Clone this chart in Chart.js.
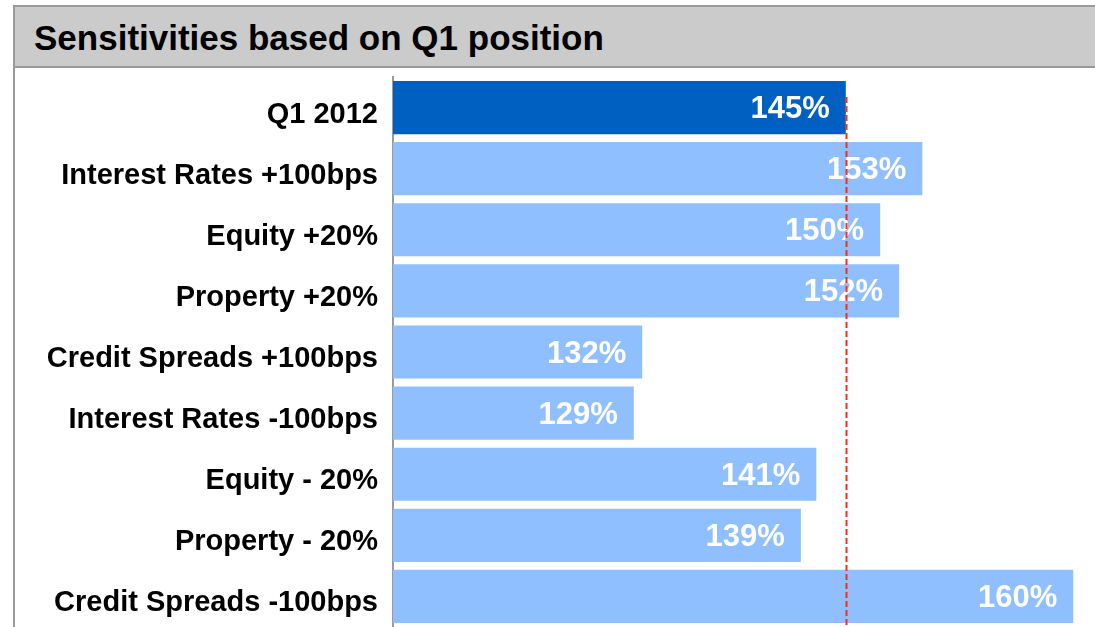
<!DOCTYPE html>
<html lang="en">
<head>
  <meta charset="UTF-8" />
  <title>Sensitivities based on Q1 position</title>
  <style>
    body { margin:0; background:#fff; font-family: "Liberation Sans", Arial, sans-serif; width:1095px; height:627px; overflow:hidden; position:relative; }
    .frame { position:absolute; left:13px; top:5px; width:1100px; height:640px; border-left:2px solid #9a9a9a; border-top:2px solid #9a9a9a; }
    .head { position:absolute; left:15px; top:7px; width:1100px; height:59px; background:#cbcbcb; border-bottom:2px solid #9a9a9a; }
    .head h2 { margin:0; position:absolute; left:19px; top:13px; font-size:35px; font-weight:bold; color:#000; line-height:36px; }
    .wrap { position:absolute; left:15px; top:69px; width:1080px; height:558px; }
  </style>
  <script src="https://cdn.jsdelivr.net/npm/chart.js"></script>
</head>
<body>
  <div class="frame"></div>
  <div class="head"><h2>Sensitivities based on Q1 position</h2></div>
  <div class="wrap"><canvas id="sens"></canvas></div>

  <script>
    const categories = ['Q1 2012', 'Interest Rates +100bps', 'Equity +20%', 'Property +20%',
      'Credit Spreads +100bps', 'Interest Rates -100bps', 'Equity - 20%', 'Property - 20%', 'Credit Spreads -100bps'];
    // bar lengths as drawn in the picture (axis runs 0..100, unlabeled)
    const barLengths = [64.5, 75.4, 69.4, 72.1, 35.5, 34.3, 60.3, 58.1, 96.9];
    const valueLabels = ['145%', '153%', '150%', '152%', '132%', '129%', '141%', '139%', '160%'];
    const refLine = 64.5; // Q1 2012 level
    const barColors = ['#0060c2', '#8fbfff', '#8fbfff', '#8fbfff', '#8fbfff', '#8fbfff', '#8fbfff', '#8fbfff', '#8fbfff'];

    const valuePlugin = {
      id: 'values',
      afterDatasetsDraw(chart) {
        const ctx = chart.ctx;
        const meta = chart.getDatasetMeta(0);
        ctx.save();
        ctx.fillStyle = '#fff';
        ctx.font = 'bold 31px "Liberation Sans", Arial, sans-serif';
        ctx.textAlign = 'right';
        ctx.textBaseline = 'middle';
        meta.data.forEach((bar, i) => {
          ctx.fillText(valueLabels[i], bar.x - 16, bar.y + 2);
        });
        ctx.restore();
      }
    };

    const refPlugin = {
      id: 'refline',
      afterDatasetsDraw(chart) {
        const { ctx, chartArea, scales } = chart;
        const x = Math.round(scales.x.getPixelForValue(refLine)) + 0.5;
        ctx.save();
        ctx.strokeStyle = '#ff2a10';
        ctx.lineWidth = 2;
        ctx.setLineDash([6, 3]);
        ctx.beginPath();
        ctx.moveTo(x, chartArea.top + 20);
        ctx.lineTo(x, chart.height);
        ctx.stroke();
        ctx.restore();
      }
    };

    new Chart(document.getElementById('sens'), {
      type: 'bar',
      data: {
        labels: categories,
        datasets: [{
          data: barLengths,
          backgroundColor: barColors,
          borderWidth: 0,
          categoryPercentage: 0.87,
          barPercentage: 1
        }]
      },
      options: {
        indexAxis: 'y',
        responsive: true,
        maintainAspectRatio: false,
        animation: false,
        layout: { padding: { top: 8, right: 0, bottom: 0, left: 0 } },
        plugins: { legend: { display: false }, tooltip: { enabled: false } },
        scales: {
          x: { display: false, min: 0, max: 100 },
          y: {
            grid: { display: false, drawTicks: false },
            border: { color: '#9a9a9a', width: 2 },
            ticks: {
              color: '#000',
              padding: 15,
              labelOffset: 7,
              font: { family: '"Liberation Sans", Arial, sans-serif', size: 29, weight: 'bold' }
            },
            afterFit(scale) {
              scale.width = 378;
              scale.paddingTop = 0;
              scale.paddingBottom = 0;
            }
          }
        }
      },
      plugins: [valuePlugin, refPlugin]
    });
  </script>
</body>
</html>
